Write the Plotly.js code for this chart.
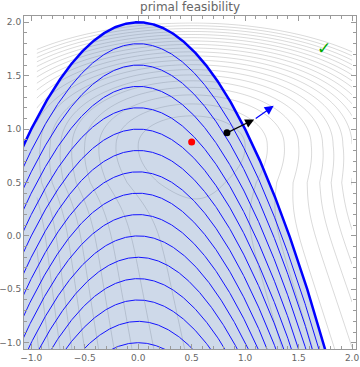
<!DOCTYPE html>
<html>
<head>
<meta charset="utf-8">
<script src="https://cdn.plot.ly/plotly-3.0.1.min.js"></script>
<style>html,body{margin:0;padding:0;background:#fff;}#chart{width:360px;height:367px;}</style>
</head>
<body>
<div id="chart"></div>
<script>
// ---- data ----
const titleText = "primal feasibility";
const xRange = [-1.068, 2.037];
const yRange = [-1.059, 2.059];
const xTicks = [-1.0, -0.5, 0.0, 0.5, 1.0, 1.5, 2.0];
const yTicks = [-1.0, -0.5, 0.0, 0.5, 1.0, 1.5, 2.0];
// constraint x^2 + y <= 2 : boundary level and inner level sets (y = c - x^2)
const boundaryLevel = 2.0;
const innerLevels = [1.8, 1.6, 1.4, 1.2, 1.0, 0.8, 0.6, 0.4, 0.2, 0.0, -0.2, -0.4, -0.6, -0.8, -1.0];
// objective contour levels
const objLevelStart = 0.25, objLevelEnd = 5.0, objLevelStep = 0.25;
const objDomainX = [-0.95, 2.0];
const objDomainY = [-1.06, 2.0];
// points
const optimumPoint = {x: [0.5], y: [0.88]};
const iteratePoint = {x: [0.83], y: [0.965]};
const stepTip = {x: 1.085, y: 1.09};
const gradTip = {x: 1.267, y: 1.218};
const checkPos = {x: 1.74, y: 1.755};

// objective function model
function objective(x, y) {
  let c = 0.5, w = 1, h;
  if (y >= 0.85) {
    const t = y - 0.85;
    h = 3.3 * t * t + 0.4 * t * t * t * t;
  } else {
    const t = 0.85 - y;
    const s = Math.max(0, 0.5 - y);
    c = 0.5 + 0.25 * s;
    w = 1 / (1 + 0.2 * t);
    h = 0.35 * (1 - Math.exp(-Math.pow(t / 0.45, 2)));
  }
  return w * (x - c) * (x - c) + h;
}

// grids
const nx = 160, ny = 160;
const gx = [], gy = [], gz = [];
for (let i = 0; i < nx; i++) gx.push(objDomainX[0] + (objDomainX[1] - objDomainX[0]) * i / (nx - 1));
for (let j = 0; j < ny; j++) gy.push(objDomainY[0] + (objDomainY[1] - objDomainY[0]) * j / (ny - 1));
for (let j = 0; j < ny; j++) { const row = []; for (let i = 0; i < nx; i++) row.push(objective(gx[i], gy[j])); gz.push(row); }

const px = [];
for (let v = -1.3; v <= 2.3; v += 0.005) px.push(v);
function parab(c) { return px.map(v => c - v * v); }

const traces = [];
traces.push({
  type: 'contour', x: gx, y: gy, z: gz, showscale: false, hoverinfo: 'skip',
  contours: {coloring: 'lines', start: objLevelStart, end: objLevelEnd, size: objLevelStep},
  line: {color: 'rgba(0,0,0,0.15)', width: 1, smoothing: 1},
  colorscale: [[0, 'rgba(0,0,0,0.15)'], [1, 'rgba(0,0,0,0.15)']]
});
// feasible region fill
const by = parab(boundaryLevel);
traces.push({
  type: 'scatter', mode: 'none', x: px.concat([px[px.length - 1], px[0]]), y: by.concat([-3, -3]),
  fill: 'toself', fillcolor: 'rgba(94,129,181,0.30)', hoverinfo: 'skip'
});
innerLevels.forEach(c => traces.push({
  type: 'scatter', mode: 'lines', x: px, y: parab(c), line: {color: 'rgb(20,20,255)', width: 1}, hoverinfo: 'skip'
}));
traces.push({type: 'scatter', mode: 'lines', x: px, y: by, line: {color: 'rgb(0,0,255)', width: 2.5}});
traces.push({type: 'scatter', mode: 'markers', x: optimumPoint.x, y: optimumPoint.y, marker: {color: 'rgb(255,0,0)', size: 7}});
traces.push({type: 'scatter', mode: 'markers', x: iteratePoint.x, y: iteratePoint.y, marker: {color: 'black', size: 7}});

const axisCommon = {
  showgrid: false, zeroline: false, showline: true, linecolor: '#9a9a9a', linewidth: 1,
  mirror: 'allticks', ticks: 'inside', ticklen: 5, tickwidth: 1, tickcolor: '#9a9a9a',
  tickformat: '.1f', tickfont: {family: 'DejaVu Sans', size: 9, color: '#666'},
  minor: {dtick: 0.1, tick0: 0, ticks: 'inside', ticklen: 3, tickcolor: '#9a9a9a', showgrid: false}
};

const layout = {
  width: 360, height: 367, margin: {l: 24, r: 4, t: 16, b: 18},
  paper_bgcolor: 'white', plot_bgcolor: 'white', showlegend: false,
  title: {text: titleText, x: 0.528, xanchor: 'center', y: 0.981, yanchor: 'middle',
          font: {family: 'DejaVu Sans', size: 12, color: '#666'}},
  xaxis: Object.assign({}, axisCommon, {range: xRange, tickvals: xTicks}),
  yaxis: Object.assign({}, axisCommon, {range: yRange, tickvals: yTicks}),
  annotations: [
    {x: stepTip.x, y: stepTip.y, ax: iteratePoint.x[0], ay: iteratePoint.y[0], xref: 'x', yref: 'y', axref: 'x', ayref: 'y',
     showarrow: true, arrowhead: 2, arrowsize: 1.5, arrowwidth: 1.2, arrowcolor: 'black', text: ''},
    {x: gradTip.x, y: gradTip.y, ax: stepTip.x, ay: stepTip.y, xref: 'x', yref: 'y', axref: 'x', ayref: 'y',
     showarrow: true, arrowhead: 2, arrowsize: 1.5, arrowwidth: 1.2, arrowcolor: 'rgb(0,0,255)', text: ''},
    {x: checkPos.x, y: checkPos.y, xref: 'x', yref: 'y', showarrow: false, text: '✓',
     font: {family: 'DejaVu Sans', size: 17, color: 'rgb(0,170,0)'}}
  ]
};

Plotly.newPlot('chart', traces, layout, {staticPlot: true, displayModeBar: false});
</script>
</body>
</html>
